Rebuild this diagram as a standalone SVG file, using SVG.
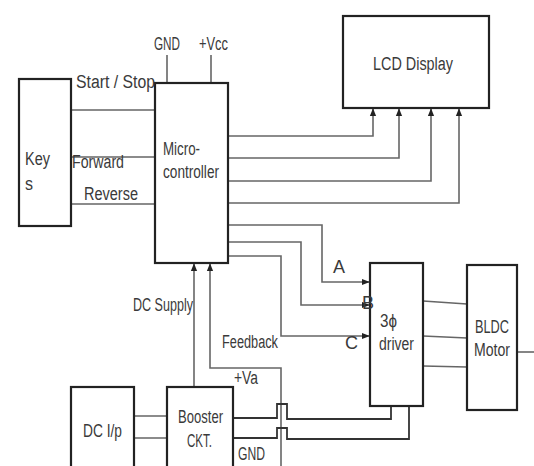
<svg xmlns="http://www.w3.org/2000/svg" width="534" height="466" viewBox="0 0 534 466">
<defs>
<style>
.box{fill:#fff;stroke:#222;stroke-width:2.2}
.ln{fill:none;stroke:#666;stroke-width:1.6}
.dk{fill:none;stroke:#333;stroke-width:1.8}
text{font-family:"Liberation Sans",Arial,sans-serif;fill:#3a3a3a;font-size:18px}
</style>
<marker id="ah" viewBox="0 0 10 10" refX="9" refY="5" markerWidth="5" markerHeight="5" orient="auto">
<path d="M0,1 L10,5 L0,9 Z" fill="#222"/>
</marker>
</defs>
<rect width="534" height="466" fill="#fff"/>
<g id="connectors">
<path class="ln" d="M167,55V83M211,55V83"/>
<path class="ln" d="M71,110H155M71,157H155M71,204H155"/>
<path class="ln" d="M228,136H373V109" marker-end="url(#ah)"/>
<path class="ln" d="M228,158H399V109" marker-end="url(#ah)"/>
<path class="ln" d="M228,181H431V109" marker-end="url(#ah)"/>
<path class="ln" d="M228,203H459V109" marker-end="url(#ah)"/>
<path class="ln" d="M228,225H322V282H369" marker-end="url(#ah)"/>
<path class="ln" d="M228,242H301V305H369" marker-end="url(#ah)"/>
<path class="ln" d="M228,256H281V336H369" marker-end="url(#ah)"/>
<path class="ln" d="M194,387V264" marker-end="url(#ah)"/>
<path class="ln" d="M281,466V368H210V264" marker-end="url(#ah)"/>
<path class="ln" d="M423,301L467,304M423,336L467,338M423,366L467,367"/>
<path class="ln" d="M517,352H534"/>
<path class="ln" d="M134,416H167M134,438H167"/>
<path class="dk" d="M234,418H277V404H287V419H391V406"/>
<path class="dk" d="M234,438H277V428H287V439H409V406"/>
</g>
<g id="keys">
<rect class="box" x="19" y="79" width="52" height="147"/>
<text x="25" y="165" textLength="25" lengthAdjust="spacingAndGlyphs" font-size="20">Key</text>
<text x="25" y="190" font-size="20" textLength="8" lengthAdjust="spacingAndGlyphs">s</text>
</g>
<g id="microcontroller">
<rect class="box" x="155" y="83" width="73" height="180"/>
<text x="163" y="155" textLength="37" lengthAdjust="spacingAndGlyphs">Micro-</text>
<text x="163" y="178" textLength="56" lengthAdjust="spacingAndGlyphs">controller</text>
</g>
<g id="lcd">
<rect class="box" x="343" y="16" width="146" height="92"/>
<text x="373" y="70" font-size="19" textLength="80" lengthAdjust="spacingAndGlyphs">LCD Display</text>
</g>
<g id="driver">
<rect class="box" x="370" y="263" width="53" height="143"/>
<text x="380" y="327" textLength="17" lengthAdjust="spacingAndGlyphs">3ϕ</text>
<text x="379" y="350" textLength="35" lengthAdjust="spacingAndGlyphs">driver</text>
</g>
<g id="bldc">
<rect class="box" x="467" y="265" width="50" height="145"/>
<text x="475" y="333" textLength="34" lengthAdjust="spacingAndGlyphs">BLDC</text>
<text x="474" y="356" textLength="36" lengthAdjust="spacingAndGlyphs">Motor</text>
</g>
<g id="booster">
<rect class="box" x="167" y="387" width="66" height="82"/>
<text x="178" y="423" textLength="45" lengthAdjust="spacingAndGlyphs">Booster</text>
<text x="187" y="447" textLength="25" lengthAdjust="spacingAndGlyphs">CKT.</text>
</g>
<g id="dcip">
<rect class="box" x="71" y="387" width="63" height="82"/>
<text x="83" y="437" textLength="39" lengthAdjust="spacingAndGlyphs">DC I/p</text>
</g>
<g id="labels">
<text x="154" y="50" font-size="15" textLength="26" lengthAdjust="spacingAndGlyphs">GND</text>
<text x="199" y="50" font-size="15" textLength="29" lengthAdjust="spacingAndGlyphs">+Vcc</text>
<text x="76" y="88" font-size="19" textLength="79" lengthAdjust="spacingAndGlyphs">Start  / Stop</text>
<text x="72" y="168" textLength="52" lengthAdjust="spacingAndGlyphs">Forward</text>
<text x="84" y="200" textLength="54" lengthAdjust="spacingAndGlyphs">Reverse</text>
<text x="133" y="311" textLength="60" lengthAdjust="spacingAndGlyphs">DC Supply</text>
<text x="222" y="348" textLength="56" lengthAdjust="spacingAndGlyphs">Feedback</text>
<text x="234" y="384" textLength="24" lengthAdjust="spacingAndGlyphs">+Va</text>
<text x="238" y="460" textLength="27" lengthAdjust="spacingAndGlyphs">GND</text>
<text x="333" y="273" font-size="16">A</text>
<text x="345" y="349" font-size="16">C</text>
<text x="362" y="309" font-size="9">B</text>
</g>
</svg>
